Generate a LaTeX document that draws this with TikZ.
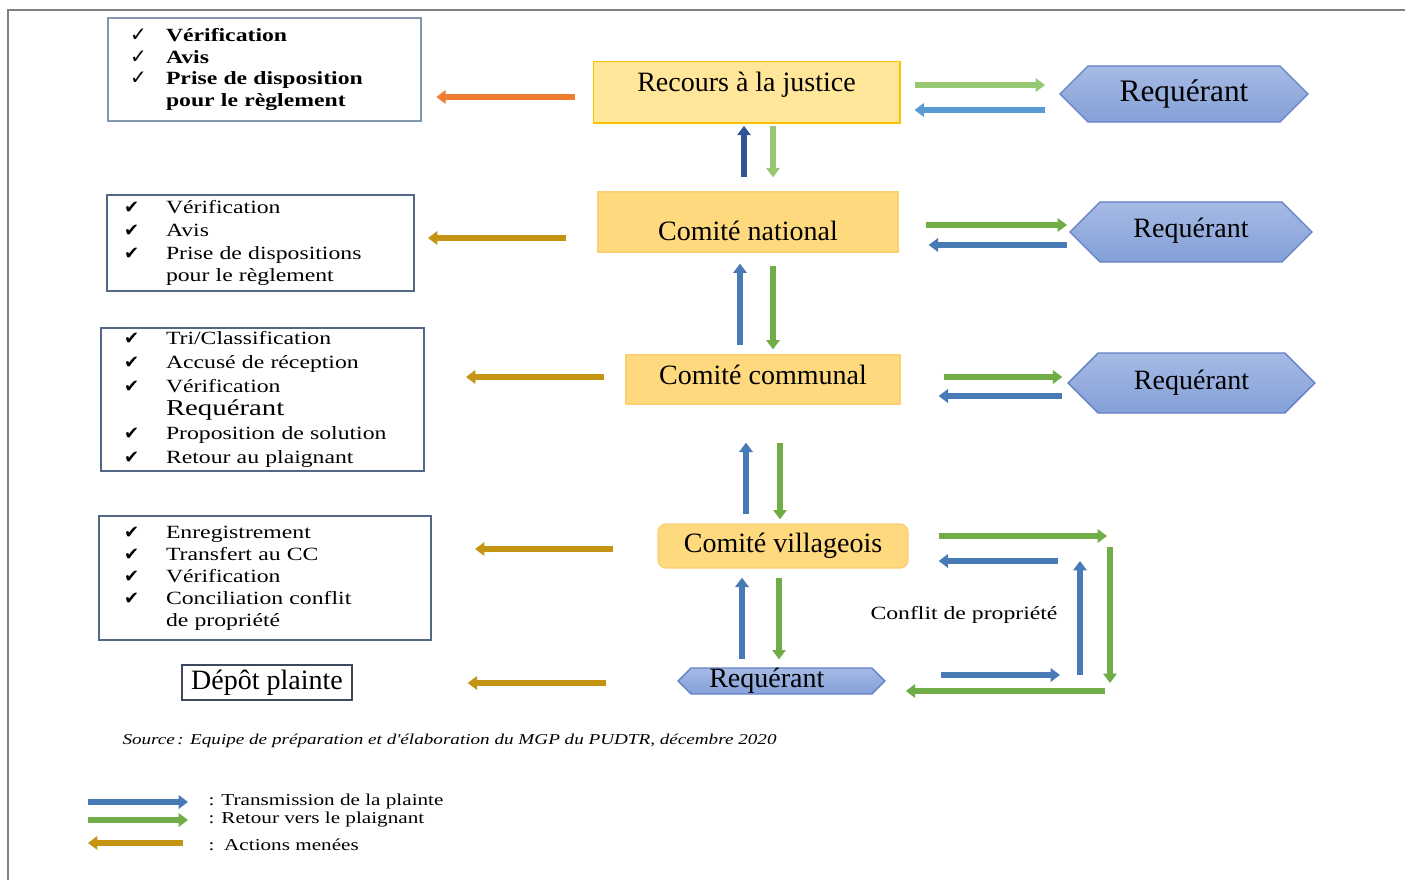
\documentclass[tikz,border=0pt]{standalone}
\usepackage{fontspec}
\setmainfont{Liberation Serif}
\newfontfamily\wideserif{Liberation Serif}[FakeStretch=1.27]
\newfontfamily\symbfont{DejaVu Sans}
\usetikzlibrary{arrows.meta,calc,shapes.symbols}

\newcommand\chkmark[1]{\makebox[#1][l]{{\symbfont\fontsize{13.5}{13.5}\selectfont ✔}}}
\newcommand\chkthin[1]{\makebox[#1][l]{{\symbfont\fontsize{15}{15}\selectfont ✓}}}
\newcommand\chkgap[1]{\hspace*{#1}}

\tikzset{every picture/.style={line width=0.75pt}}
\tikzset{
  listbox/.style={draw={rgb, 255:red, 84; green, 104; blue, 134 }, line width=1.5pt, align=left, inner ysep=0pt,
    font=\wideserif\fontsize{14}{17}\selectfont},
  comite/.style={fill={rgb, 255:red, 255; green, 217; blue, 125 }, draw={rgb, 255:red, 250; green, 208; blue, 115 },
    line width=1pt, inner sep=0pt, font=\fontsize{21}{25}\selectfont},
  requerant/.style={signal, signal to=west and east, draw={rgb, 255:red, 98; green, 128; blue, 196 }, line width=1pt,
    top color={rgb, 255:red, 166; green, 186; blue, 228 }, bottom color={rgb, 255:red, 132; green, 160; blue, 216 },
    inner sep=0pt, font=\fontsize{21}{25}\selectfont},
  flow/.style={line width=4.5pt, -{Triangle[width=10pt,length=7pt]}},
  sendflow/.style={flow, draw={rgb, 255:red, 72; green, 122; blue, 182 }},
  backflow/.style={flow, draw={rgb, 255:red, 112; green, 173; blue, 71 }},
  actflow/.style={flow, draw={rgb, 255:red, 196; green, 148; blue, 18 }},
}

\begin{document}
\begin{tikzpicture}[x=0.75pt,y=0.75pt,yscale=-1,xscale=1]
\useasboundingbox (0,0) rectangle (1405,880);

%Straight Lines: frame
\draw [draw={rgb, 255:red, 128; green, 128; blue, 128 }, line width=1.5pt] (8,880) -- (8,10) -- (1405,10) ;

% Text Node: levels
\draw (746.5,92.5) node [comite, minimum width=230pt, minimum height=46pt, text depth=16pt, fill={rgb, 255:red, 255; green, 230; blue, 153 }, draw={rgb, 255:red, 255; green, 192; blue, 0 }] (recours) {Recours à la justice};
\draw (748,222) node [comite, minimum width=225pt, minimum height=45pt, text height=28pt] (national) {Comité national};
\draw (763,379.5) node [comite, minimum width=205.5pt, minimum height=36.75pt, text depth=7pt] (communal) {Comité communal};
\draw (783,546) node [comite, minimum width=187.5pt, minimum height=33pt, rounded corners=6pt] (village) {Comité villageois};

% Text Node: requerants
\draw (1184,94) node [requerant, minimum width=186pt, minimum height=42pt, font=\fontsize{23.5}{27}\selectfont] (req1) {Requérant};
\draw (1191,232) node [requerant, minimum width=181.5pt, minimum height=45pt, text depth=6pt] (req2) {Requérant};
\draw (1191.5,383) node [requerant, minimum width=185pt, minimum height=45pt] (req3) {Requérant};
\draw (781.5,681) node [requerant, minimum width=155pt, minimum height=19.5pt] (req4) {Requérant\hspace*{22pt}};

% Text Node: actions
\draw (264.5,69.5) node [listbox, draw={rgb, 255:red, 132; green, 151; blue, 176 }, line width=2pt, inner xsep=16.5pt, text width=201.75pt, minimum height=77.25pt, font=\wideserif\bfseries\fontsize{14}{16.3}\selectfont] (act1) {\chkthin{27pt}Vérification\\ \chkthin{27pt}Avis\\ \chkthin{27pt}Prise de disposition\\ \chkgap{27pt}pour le règlement};
\draw (260.5,243) node [listbox, inner xsep=12.75pt, text width=204.75pt, minimum height=72pt, font=\wideserif\fontsize{14}{17.2}\selectfont] (act2) {\chkmark{31.5pt}Vérification\\ \chkmark{31.5pt}Avis\\ \chkmark{31.5pt}Prise de dispositions\\ \chkgap{31.5pt}pour le règlement};
\draw (262.5,399.5) node [listbox, inner xsep=17.25pt, text width=207.75pt, minimum height=107.25pt, font=\wideserif\fontsize{14}{17.8}\selectfont] (act3) {\chkmark{31.5pt}Tri/Classification\\ \chkmark{31.5pt}Accusé de réception\\ \chkmark{31.5pt}Vérification\\ \chkgap{31.5pt}{\fontsize{17}{17.8}\selectfont Requérant}\\ \chkmark{31.5pt}Proposition de solution\\ \chkmark{31.5pt}Retour au plaignant};
\draw (265,578) node [listbox, inner xsep=18.75pt, text width=211.5pt, minimum height=93pt, font=\wideserif\fontsize{14}{16.5}\selectfont] (act4) {\chkmark{31.5pt}Enregistrement\\ \chkmark{31.5pt}Transfert au CC\\ \chkmark{31.5pt}Vérification\\ \chkmark{31.5pt}Conciliation conflit\\ \chkgap{31.5pt}de propriété\\[6pt]};
\draw (267,682.5) node [draw={rgb, 255:red, 62; green, 72; blue, 92 }, line width=1pt, minimum width=127.5pt, minimum height=26.25pt, inner sep=2pt, font=\fontsize{21}{25}\selectfont] (depot) {Dépôt plainte};

%Straight Lines: top level
\draw [flow, draw={rgb, 255:red, 237; green, 125; blue, 49 }] ($(recours.west)+(-18,4.5)$) -- ($(act1.east)+(14,27.5)$) ;
\draw [backflow, draw={rgb, 255:red, 150; green, 200; blue, 115 }] ($(recours.east)+(14,-7.5)$) -- ($(req1.west)+(-14,-9)$) ;
\draw [sendflow, draw={rgb, 255:red, 91; green, 155; blue, 213 }] ($(req1.west)+(-14,16)$) -- ($(recours.east)+(14,17.5)$) ;
\draw [sendflow, draw={rgb, 255:red, 47; green, 85; blue, 151 }] ($(national.north)+(-4,-14)$) -- ($(recours.south)+(-2.5,2)$) ;
\draw [backflow, draw={rgb, 255:red, 150; green, 200; blue, 115 }] ($(recours.south)+(26.5,2)$) -- ($(national.north)+(25,-14)$) ;

%Straight Lines: national
\draw [actflow] ($(national.west)+(-31,16)$) -- ($(act2.east)+(13,-5)$) ;
\draw [backflow] ($(national.east)+(27,3)$) -- ($(req2.west)+(-2,-7)$) ;
\draw [sendflow] ($(req2.west)+(-2,13)$) -- ($(national.east)+(30,23)$) ;
\draw [sendflow] ($(communal.north)+(-23,-9)$) -- ($(national.south)+(-8,11)$) ;
\draw [backflow] ($(national.south)+(25,13)$) -- ($(communal.north)+(10,-5)$) ;

%Straight Lines: communal
\draw [actflow] ($(communal.west)+(-21,-2.5)$) -- ($(act3.east)+(41,-22.5)$) ;
\draw [backflow] ($(communal.east)+(43,-2.5)$) -- ($(req3.west)+(-5,-6)$) ;
\draw [sendflow] ($(req3.west)+(-5,13)$) -- ($(communal.east)+(38,16.5)$) ;
\draw [sendflow] ($(village.north)+(-37,-9)$) -- ($(communal.south)+(-17,38)$) ;
\draw [backflow] ($(communal.south)+(17,38)$) -- ($(village.north)+(-3,-4)$) ;

%Straight Lines: village
\coordinate (outerTR) at (1110,536) ;
\coordinate (outerBR) at (1110,691) ;
\coordinate (innerTR) at (1080,561) ;
\coordinate (innerBR) at (1080,675) ;
\draw [actflow] ($(village.west)+(-44,3)$) -- ($(act4.east)+(43,-29)$) ;
\draw [backflow] ($(village.east)+(30,-10)$) -- ($(outerTR)+(-3,0)$) ;
\draw [backflow] ($(outerTR)+(0,11)$) -- ($(outerBR)+(0,-8)$) ;
\draw [backflow] ($(outerBR)+(-5,0)$) -- ($(req4.east)+(20,10)$) ;
\draw [sendflow] ($(req4.east)+(55,-6)$) -- ($(innerBR)+(-20,0)$) ;
\draw [sendflow] (innerBR) -- (innerTR) ;
\draw [sendflow] ($(innerTR)+(-22,0)$) -- ($(village.east)+(30,15)$) ;
\draw [sendflow] ($(req4.north)+(-39.5,-8)$) -- ($(village.south)+(-41,9)$) ;
\draw [backflow] ($(village.south)+(-4,9)$) -- ($(req4.north)+(-2.5,-8)$) ;
\draw (964,615) node [font=\wideserif\fontsize{14}{17}\selectfont] (conflit) {Conflit de propriété};

%Straight Lines: complaint
\draw [actflow] ($(req4.west)+(-71,2)$) -- ($(depot.east)+(115,0.5)$) ;

% Text Node: source
\draw (122,741) node [anchor=west, inner sep=0pt, font=\wideserif\itshape\fontsize{11.3}{14}\selectfont] (source) {Source\,: Equipe de préparation et d'élaboration du MGP du PUDTR, décembre 2020};

% Text Node: legend
\draw (208,801) node [anchor=west, inner sep=0pt, font=\wideserif\fontsize{12.5}{15}\selectfont] (legsend) {: Transmission de la plainte};
\draw (208,820) node [anchor=west, inner sep=0pt, font=\wideserif\fontsize{12.5}{15}\selectfont] (legback) {: Retour vers le plaignant};
\draw (208,845) node [anchor=west, inner sep=0pt, font=\wideserif\fontsize{12.5}{15}\selectfont] (legact) {:\, Actions menées};
\draw [sendflow] ($(legsend.west)+(-120,1)$) -- ($(legsend.west)+(-20,1)$) ;
\draw [backflow] ($(legback.west)+(-120,0)$) -- ($(legback.west)+(-20,0)$) ;
\draw [actflow] ($(legact.west)+(-25,-2)$) -- ($(legact.west)+(-120,-2)$) ;

\end{tikzpicture}
\end{document}
